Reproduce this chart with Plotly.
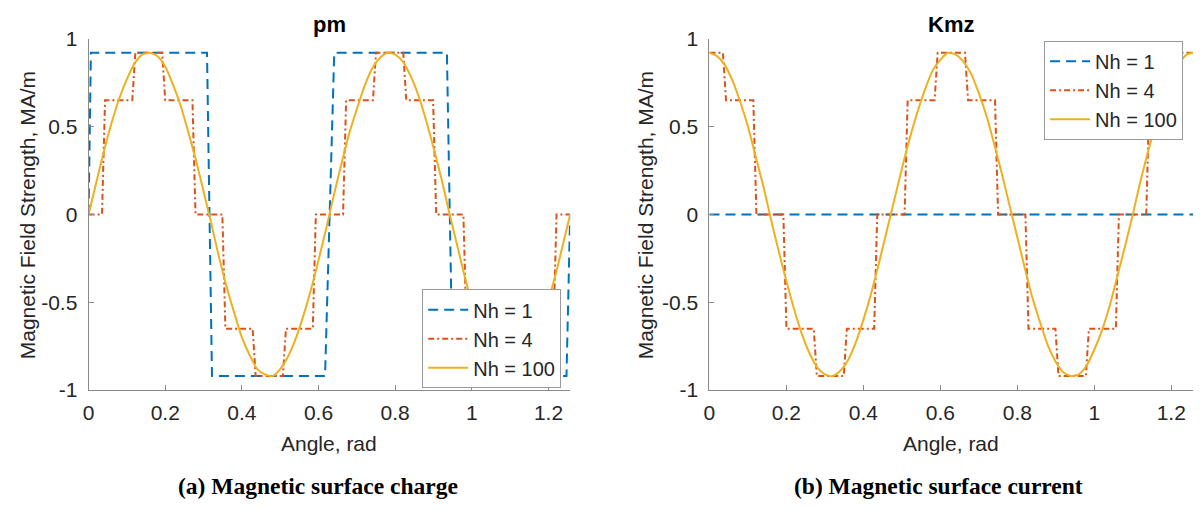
import plotly.graph_objects as go

# ---------------- data ----------------
# angle grid of the smooth (Nh = 100) curves, rad
angle = [0.00, 0.02, 0.04, 0.06, 0.08, 0.10, 0.12, 0.14, 0.16, 0.18,
         0.20, 0.22, 0.24, 0.26, 0.28, 0.30, 0.32, 0.34, 0.36, 0.38,
         0.40, 0.42, 0.44, 0.46, 0.48, 0.50, 0.52, 0.54, 0.56, 0.58,
         0.60, 0.62, 0.64, 0.66, 0.68, 0.70, 0.72, 0.74, 0.76, 0.78,
         0.80, 0.82, 0.84, 0.86, 0.88, 0.90, 0.92, 0.94, 0.96, 0.98,
         1.00, 1.02, 1.04, 1.06, 1.08, 1.10, 1.12, 1.14, 1.16, 1.18,
         1.20, 1.22, 1.24, 1.2566]

# surface charge pm, Nh = 100
pm_nh100 = [0.00, 0.18, 0.36, 0.52, 0.66, 0.77, 0.86, 0.91, 0.92, 0.90,
            0.84, 0.74, 0.62, 0.47, 0.31, 0.13, -0.05, -0.24, -0.41, -0.56,
            -0.70, -0.80, -0.88, -0.91, -0.92, -0.88, -0.81, -0.71, -0.58, -0.43,
            -0.26, -0.08, 0.11, 0.29, 0.46, 0.60, 0.73, 0.83, 0.89, 0.92,
            0.91, 0.87, 0.79, 0.68, 0.54, 0.38, 0.21, 0.02, -0.16, -0.34,
            -0.50, -0.64, -0.76, -0.85, -0.90, -0.92, -0.90, -0.85, -0.76, -0.64,
            -0.49, -0.33, -0.15, 0.00]

# surface current Kmz, Nh = 100
kmz_nh100 = [0.92, 0.90, 0.85, 0.76, 0.64, 0.50, 0.33, 0.16, -0.03, -0.21,
             -0.38, -0.54, -0.68, -0.79, -0.87, -0.91, -0.92, -0.89, -0.83, -0.73,
             -0.60, -0.45, -0.28, -0.10, 0.08, 0.26, 0.43, 0.58, 0.71, 0.82,
             0.88, 0.92, 0.91, 0.87, 0.80, 0.69, 0.56, 0.40, 0.23, 0.05,
             -0.13, -0.31, -0.48, -0.62, -0.75, -0.84, -0.90, -0.92, -0.91, -0.86,
             -0.77, -0.66, -0.52, -0.35, -0.18, 0.00, 0.19, 0.36, 0.52, 0.66,
             0.78, 0.86, 0.91, 0.92]

# Nh = 1 square wave of pm (sampled, so edges have a small ramp)
pm_nh1_angle = [0.0, 0.006, 0.309, 0.322, 0.617, 0.641, 0.935, 0.950, 1.247, 1.2566]
pm_nh1 = [0.0, 0.92, 0.92, -0.92, -0.92, 0.92, 0.92, -0.92, -0.92, 0.0]

# Nh = 1 of Kmz is zero everywhere
kmz_nh1_angle = [0.0, 1.2566]
kmz_nh1 = [0.0, 0.0]

# Nh = 4 staircases (shared sample angles)
step_angle = [0.0, 0.035, 0.043, 0.114, 0.122, 0.192, 0.200, 0.271, 0.279,
              0.349, 0.357, 0.428, 0.436, 0.507, 0.515, 0.585, 0.593, 0.664,
              0.672, 0.742, 0.750, 0.821, 0.829, 0.899, 0.907, 0.978, 0.986,
              1.056, 1.064, 1.135, 1.143, 1.213, 1.221, 1.2566]
pm_nh4 = [0, 0, 0.65, 0.65, 0.92, 0.92, 0.65, 0.65, 0, 0,
          -0.65, -0.65, -0.92, -0.92, -0.65, -0.65, 0, 0, 0.65, 0.65,
          0.92, 0.92, 0.65, 0.65, 0, 0, -0.65, -0.65, -0.92, -0.92,
          -0.65, -0.65, 0, 0]
kmz_nh4 = [0.92, 0.92, 0.65, 0.65, 0, 0, -0.65, -0.65, -0.92, -0.92,
           -0.65, -0.65, 0, 0, 0.65, 0.65, 0.92, 0.92, 0.65, 0.65,
           0, 0, -0.65, -0.65, -0.92, -0.92, -0.65, -0.65, 0, 0,
           0.65, 0.65, 0.92, 0.92]

x_ticks = [0, 0.2, 0.4, 0.6, 0.8, 1.0, 1.2]
x_tick_text = ["0", "0.2", "0.4", "0.6", "0.8", "1", "1.2"]
y_ticks = [-1, -0.5, 0, 0.5, 1]
y_tick_text = ["-1", "-0.5", "0", "0.5", "1"]

series_names = ["Nh = 1", "Nh = 4", "Nh = 100"]
panel_titles = ["pm", "Kmz"]
captions = ["(a) Magnetic surface charge", "(b) Magnetic surface current"]
x_title = "Angle, rad"
y_title = "Magnetic Field Strength, MA/m"

# ---------------- styling ----------------
BLUE = "#0072BD"
RED = "#D95319"
YELLOW = "#EDB120"
FONT = "Liberation Sans, Arial, sans-serif"
SERIF = "Liberation Serif, Times New Roman, serif"
TXT = "#262626"
AXIS = "#8a8a8a"

fig = go.Figure()

panels = [
    (pm_nh1_angle, pm_nh1, step_angle, pm_nh4, angle, pm_nh100, "x", "y", "legend"),
    (kmz_nh1_angle, kmz_nh1, step_angle, kmz_nh4, angle, kmz_nh100, "x2", "y2", "legend2"),
]
for a1, v1, a4, v4, a100, v100, xa, ya, lg in panels:
    fig.add_trace(go.Scatter(x=a1, y=v1, mode="lines", name=series_names[0],
                             line=dict(color=BLUE, width=2, dash="10px,6px"),
                             xaxis=xa, yaxis=ya, legend=lg))
    fig.add_trace(go.Scatter(x=a4, y=v4, mode="lines", name=series_names[1],
                             line=dict(color=RED, width=2, dash="6px,3px,2px,3px"),
                             xaxis=xa, yaxis=ya, legend=lg))
    fig.add_trace(go.Scatter(x=a100, y=v100, mode="lines", name=series_names[2],
                             line=dict(color=YELLOW, width=2, shape="spline", smoothing=0.6),
                             xaxis=xa, yaxis=ya, legend=lg))

W, H = 1200, 510
left_dom = [83 / W, 567 / W]
right_dom = [707 / W, 1193 / W]
y_dom = [1 - 396 / H, 1 - 28 / H]

def xaxis(dom, anchor):
    return dict(domain=dom, anchor=anchor, range=[0, 1.2566], tickvals=x_ticks,
                ticktext=x_tick_text, ticks="inside", ticklen=5, tickcolor=AXIS,
                showline=True, linecolor=AXIS, linewidth=1, showgrid=False,
                zeroline=False, tickfont=dict(family=FONT, size=21, color=TXT),
                ticklabelstandoff=4)

def yaxis(anchor):
    return dict(domain=y_dom, anchor=anchor, range=[-1, 1], tickvals=y_ticks,
                ticktext=y_tick_text, ticks="inside", ticklen=5, tickcolor=AXIS,
                showline=True, linecolor=AXIS, linewidth=1, showgrid=False,
                zeroline=False, tickfont=dict(family=FONT, size=21, color=TXT),
                ticklabelstandoff=6)

legend_style = dict(bgcolor="white", bordercolor="#9a9a9a", borderwidth=1,
                    font=dict(family=FONT, size=20, color=TXT),
                    tracegroupgap=0, itemwidth=40)

fig.update_layout(
    width=W, height=H,
    margin=dict(l=0, r=0, t=0, b=0),
    paper_bgcolor="white", plot_bgcolor="white",
    xaxis=xaxis(left_dom, "y"), yaxis=yaxis("x"),
    xaxis2=xaxis(right_dom, "y2"), yaxis2=yaxis("x2"),
    legend=dict(x=558 / W, y=1 - 394 / H, xanchor="right", yanchor="bottom", **legend_style),
    legend2=dict(x=1183 / W, y=1 - 30 / H, xanchor="right", yanchor="top", **legend_style),
    showlegend=True,
)

centers = [(left_dom[0] + left_dom[1]) / 2, (right_dom[0] + right_dom[1]) / 2]
ytitle_x = [22 / W, 643 / W]
caption_x = [314 / W, 937 / W]
common = dict(xref="paper", yref="paper", showarrow=False,
              xanchor="center", yanchor="middle")
for i in range(2):
    fig.add_annotation(text=f"<b>{panel_titles[i]}</b>", x=centers[i], y=1 - 13 / H,
                       font=dict(family=FONT, size=22, color="black"), **common)
    fig.add_annotation(text=x_title, x=centers[i], y=1 - 452 / H,
                       font=dict(family=FONT, size=21, color=TXT), **common)
    fig.add_annotation(text=y_title, x=ytitle_x[i], y=1 - 213 / H, textangle=-90,
                       font=dict(family=FONT, size=21, color=TXT), **common)
    fig.add_annotation(text=f"<b>{captions[i]}</b>", x=caption_x[i], y=1 - 496 / H,
                       font=dict(family=SERIF, size=23.5, color="black"), **common)

fig.write_html("out.html")
